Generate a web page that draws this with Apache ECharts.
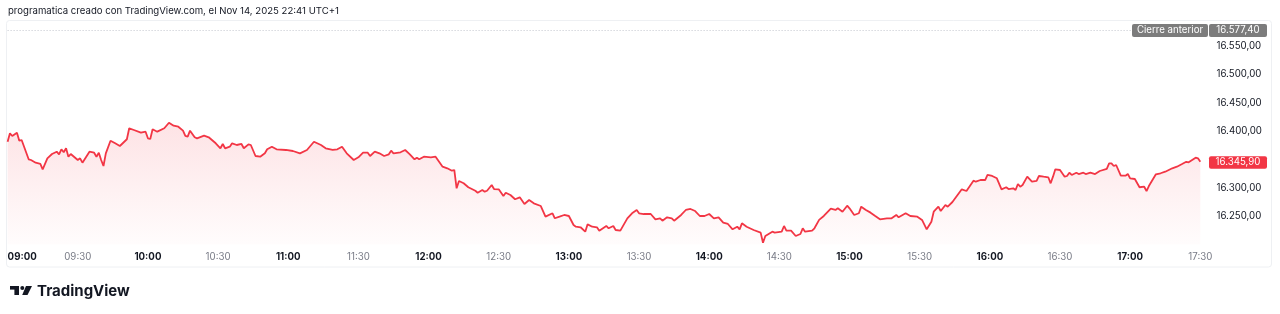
<!DOCTYPE html>
<html><head><meta charset="utf-8">
<script src="https://cdn.jsdelivr.net/npm/echarts@6.0.0/dist/echarts.min.js"></script>
<style>html,body{margin:0;padding:0;background:#fff;}#c{width:1280px;height:314px;}</style>
</head><body><div id="c"></div>
<script>
const titleText = 'programatica creado con TradingView.com, el Nov 14, 2025 22:41 UTC+1';
const prevClose = 16577.40;
const lastPrice = 16345.90;
const times = ['09:00','09:01','09:02','09:04','09:05','09:06','09:09','09:10','09:12','09:14','09:15','09:17','09:19','09:21','09:22','09:23','09:24','09:25','09:26','09:27','09:30','09:31','09:32','09:35','09:37','09:38','09:39','09:40','09:41','09:42','09:44','09:46','09:48','09:51','09:52','09:54','09:57','09:59',
'10:00','10:01','10:02','10:04','10:07','10:09','10:11','10:13','10:15','10:16','10:17','10:18','10:20','10:21','10:24','10:26','10:29','10:31','10:32','10:33','10:35','10:36','10:38','10:40','10:41','10:43','10:44','10:46','10:48','10:50','10:51','10:53','10:55','10:59',
'11:02','11:05','11:08','11:11','11:14','11:16','11:19','11:21','11:23','11:25','11:28','11:30','11:32','11:34','11:35','11:37','11:39','11:41','11:43','11:44','11:45','11:48','11:50','11:52','11:54','11:55','11:56','11:58',
'12:01','12:03','12:06','12:08','12:10','12:11','12:12','12:13','12:15','12:17','12:20','12:21','12:23','12:24','12:25','12:27','12:28','12:30','12:32','12:33','12:35','12:37','12:39','12:41','12:43','12:45','12:48','12:50','12:53','12:54','12:56','12:58',
'13:00','13:02','13:03','13:05','13:07','13:08','13:10','13:12','13:13','13:16','13:17','13:19','13:20','13:22','13:25','13:27','13:29','13:30','13:32','13:35','13:37','13:39','13:40','13:42','13:44','13:45','13:48','13:50','13:52','13:54','13:56','13:58',
'14:00','14:02','14:04','14:06','14:08','14:10','14:12','14:13','14:14','14:16','14:19','14:22','14:23','14:24','14:27','14:28','14:31','14:32','14:33','14:35','14:37','14:39','14:40','14:41','14:44','14:45','14:47','14:49','14:52','14:54','14:55','14:57','14:59',
'15:00','15:02','15:04','15:05','15:07','15:09','15:11','15:13','15:16','15:18','15:20','15:21','15:24','15:26','15:29','15:31','15:33','15:35','15:36','15:38','15:39','15:41','15:42','15:44','15:48','15:50','15:53','15:54','15:56','15:58','15:59',
'16:01','16:03','16:05','16:07','16:08','16:10','16:11','16:12','16:13','16:14','16:16','16:18','16:20','16:21','16:23','16:25','16:26','16:27','16:28','16:30','16:32','16:33','16:34','16:35','16:37','16:38','16:40','16:41','16:43','16:45','16:47','16:50','16:51','16:52','16:53','16:54','16:56','16:58','16:59',
'17:00','17:02','17:04','17:06','17:07','17:08','17:11','17:13','17:15','17:18','17:20','17:22','17:24','17:25','17:28','17:29','17:30'];
const prices = [16381.1,16395.9,16391.2,16397.0,16382.9,16384.1,16350.1,16348.8,16344.1,16341.8,16332.4,16351.8,16359.4,16363.5,16358.9,16367.7,16362.4,16369.5,16354.6,16359.4,16348.8,16351.8,16344.1,16363.5,16361.7,16354.6,16361.7,16348.8,16338.2,16360.6,16382.9,16378.3,16373.5,16385.4,16404.8,16401.8,16397.0,16398.8,
16387.1,16385.9,16403.0,16398.8,16404.8,16414.6,16409.4,16407.6,16400.6,16391.2,16390.0,16400.6,16388.9,16387.1,16391.7,16388.9,16378.3,16369.5,16377.1,16369.5,16372.3,16378.3,16375.3,16377.1,16369.5,16376.5,16375.3,16355.9,16354.6,16360.6,16367.7,16372.3,16367.7,16366.5,
16364.7,16360.6,16366.5,16381.1,16375.3,16369.5,16366.5,16367.7,16372.3,16360.6,16348.8,16353.6,16361.7,16361.7,16355.9,16363.5,16360.6,16355.9,16358.9,16365.2,16360.6,16362.4,16366.5,16358.9,16350.1,16352.9,16350.1,16354.6,
16353.6,16354.6,16337.0,16334.2,16329.9,16331.2,16298.9,16311.8,16307.7,16300.7,16294.6,16291.1,16295.9,16292.9,16294.6,16304.7,16297.6,16297.1,16285.3,16291.1,16287.1,16279.5,16283.0,16271.2,16278.2,16272.4,16267.6,16248.8,16254.8,16246.0,16248.8,16251.8,
16250.0,16234.1,16231.1,16230.1,16222.3,16235.3,16231.1,16230.1,16224.1,16232.4,16228.3,16232.4,16225.3,16224.1,16245.9,16254.8,16260.6,16254.8,16253.5,16253.5,16244.2,16245.9,16241.7,16247.7,16245.9,16241.7,16251.8,16260.6,16262.4,16258.8,16250.0,16250.0,
16253.5,16245.9,16247.7,16238.2,16235.9,16226.5,16231.1,16226.5,16237.1,16231.1,16225.3,16220.6,16202.9,16214.7,16222.3,16220.6,16222.3,16232.4,16224.1,16224.1,16214.7,16218.2,16228.3,16222.3,16224.1,16228.3,16243.1,16250.0,16262.9,16260.6,16263.6,16257.6,16268.2,
16263.6,16251.8,16254.8,16266.5,16260.6,16255.9,16250.0,16244.2,16245.9,16245.9,16251.8,16247.7,16254.8,16250.0,16248.8,16243.1,16226.5,16239.9,16257.6,16266.5,16258.8,16269.4,16266.5,16274.7,16297.1,16294.1,16312.3,16310.5,16313.5,16313.5,16322.4,
16320.6,16316.5,16297.1,16300.7,16297.6,16298.9,16295.9,16306.5,16301.7,16304.7,16319.4,16310.5,16311.8,16320.6,16319.4,16318.3,16307.7,16319.4,16332.4,16331.2,16319.4,16320.6,16326.4,16322.4,16326.4,16324.1,16326.4,16324.1,16326.4,16324.1,16329.4,16333.0,16343.0,16343.0,16338.2,16340.0,16321.1,16321.1,16324.1,
16316.5,16315.3,16300.7,16301.7,16294.1,16302.9,16323.6,16325.4,16328.2,16334.2,16337.0,16341.2,16345.6,16344.7,16353.0,16351.8,16345.9];

const FONT = 'Inter, "Noto Sans", sans-serif';
const FS = 9.7;
const RED = '#f23645';
function toMin(s){ const p = s.split(':'); return (+p[0]-9)*60 + (+p[1]); }
function pad(n){ return (n<10?'0':'')+n; }
function fmtEs(v){ const p = v.toFixed(2).split('.'); return p[0].replace(/\B(?=(\d{3})+(?!\d))/g,'.')+','+p[1]; }
const seriesData = times.map((t,i)=>[toMin(t), prices[i]]);

const chart = echarts.init(document.getElementById('c'), null, {renderer:'canvas'});
chart.setOption({
  animation:false,
  backgroundColor:'#fff',
  grid:{left:7.6, right:75, top:17.67, bottom:69.67, containLabel:false},
  xAxis:{type:'value', min:0, max:512, interval:30,
    axisLine:{show:false}, axisTick:{show:false}, splitLine:{show:false},
    axisLabel:{margin:7.5, showMaxLabel:false, alignMinLabel:'left', fontFamily:FONT, fontSize:FS,
      formatter:function(v){ if (v%30!==0) return ''; const h=9+Math.floor(v/60), m=v%60; const s=pad(h)+':'+pad(m); return m===0?'{b|'+s+'}':'{n|'+s+'}'; },
      rich:{b:{fontWeight:'bold', color:'#131722', fontSize:FS, fontFamily:FONT}, n:{color:'#787b86', fontSize:FS, fontFamily:FONT}}}},
  yAxis:{type:'value', position:'right', min:16200, max:16600, interval:50,
    axisLine:{show:false}, axisTick:{show:false}, splitLine:{show:false},
    axisLabel:{margin:11.5, color:'#131722', fontSize:FS, fontFamily:FONT, align:'left',
      formatter:function(v){ if (v===16200||v===16600||Math.abs(v-lastPrice)<20) return ''; return fmtEs(v); }}},
  series:[{type:'line', data:seriesData, showSymbol:false, symbol:'none',
    lineStyle:{color:RED, width:1.8}, itemStyle:{color:RED},
    areaStyle:{color:new echarts.graphic.LinearGradient(0,0,0,1,[{offset:0,color:'rgba(242,54,69,0.2)'},{offset:1,color:'rgba(242,54,69,0.02)'}])},
    markLine:{silent:true, symbol:'none', label:{show:false},
      lineStyle:{color:'#c3c6ce', type:[1,2], width:1}, data:[{yAxis:prevClose}]}
  }]
});

const yPrev = chart.convertToPixel({yAxisIndex:0}, prevClose);
const yLast = chart.convertToPixel({yAxisIndex:0}, lastPrice);
const lf = FS+'px '+FONT;
chart.setOption({graphic:[
  {type:'rect', shape:{x:6.5, y:20.5, width:1265, height:246.5, r:3}, style:{fill:'none', stroke:'#eef0f3', lineWidth:1}, z:-1},
  {type:'text', left:8, top:6.5, style:{text:titleText, font:'9.6px '+FONT, fill:'#131722'}},
  {type:'rect', z:100, shape:{x:1132, y:yPrev-6.5, width:76, height:13, r:2}, style:{fill:'#7c7c7c'}},
  {type:'text', z:101, x:1170, y:yPrev, style:{text:'Cierre anterior', font:lf, fill:'#fff', align:'center', verticalAlign:'middle'}},
  {type:'rect', z:100, shape:{x:1209, y:yPrev-6.5, width:58, height:13, r:2}, style:{fill:'#7c7c7c'}},
  {type:'text', z:101, x:1238, y:yPrev, style:{text:fmtEs(prevClose), font:lf, fill:'#fff', align:'center', verticalAlign:'middle'}},
  {type:'rect', z:100, shape:{x:1209, y:yLast-5.5, width:58, height:12.5, r:2}, style:{fill:RED}},
  {type:'text', z:101, x:1238, y:yLast+0.7, style:{text:fmtEs(lastPrice), font:lf, fill:'#fff', align:'center', verticalAlign:'middle'}},
  {type:'rect', shape:{x:10, y:286, width:9, height:3.6}, style:{fill:'#131722'}},
  {type:'rect', shape:{x:14.4, y:286, width:4.6, height:9}, style:{fill:'#131722'}},
  {type:'circle', shape:{cx:22.3, cy:288, r:2}, style:{fill:'#131722'}},
  {type:'polygon', shape:{points:[[26,286],[32,286],[27.5,295],[22.2,295]]}, style:{fill:'#131722'}},
  {type:'text', x:37, y:291, style:{text:'TradingView', font:'bold 15px '+FONT, fill:'#131722', verticalAlign:'middle'}}
]});
</script></body></html>
